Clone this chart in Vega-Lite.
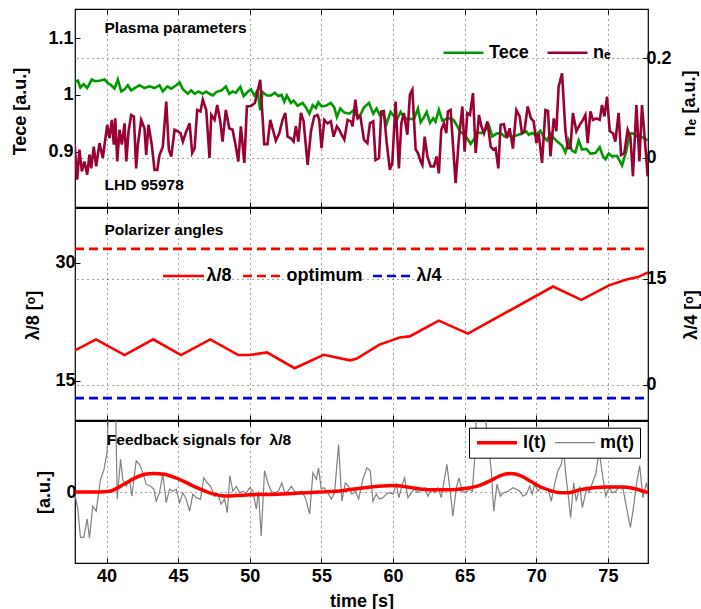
{
"$schema": "https://vega.github.io/schema/vega-lite/v6.json",
"background": "white",
"padding": {"left": 10, "top": 7, "right": 0, "bottom": 0},
"config": {
 "font": "Liberation Sans",
 "view": {"stroke": "black", "strokeWidth": 1.2},
 "axis": {"labelFont": "Liberation Sans", "labelFontWeight": "bold", "labelFontSize": 18, "labelColor": "black",
  "titleFont": "Liberation Sans", "titleFontWeight": "bold", "titleFontSize": 18, "titleColor": "black",
  "domain": false, "tickColor": "black", "tickSize": -5, "tickWidth": 1, "gridColor": "#333", "gridDash": [1, 4], "gridWidth": 1, "gridOpacity": 0.9},
 "legend": {"labelFont": "Liberation Sans", "labelFontWeight": "bold", "labelFontSize": 18, "labelColor": "black", "symbolType": "stroke", "padding": 0, "title": null},
 "title": {"font": "Liberation Sans", "fontWeight": "bold", "fontSize": 15.5, "color": "black", "anchor": "start", "frame": "group", "orient": "top",
  "subtitleFont": "Liberation Sans", "subtitleFontWeight": "bold", "subtitleFontSize": 15.5, "subtitleColor": "black"}
},
"datasets": {
 "tece": [{"t":37.77,"v":1.022},{"t":38.0,"v":1.025},{"t":38.18,"v":1.013},{"t":38.41,"v":1.019},{"t":38.65,"v":1.012},{"t":38.97,"v":1.027},{"t":39.21,"v":1.024},{"t":39.51,"v":1.025},{"t":39.86,"v":1.027},{"t":40.09,"v":1.021},{"t":40.33,"v":1.017},{"t":40.56,"v":1.011},{"t":40.79,"v":1.027},{"t":41.03,"v":1.006},{"t":41.26,"v":1.010},{"t":41.49,"v":1.017},{"t":41.72,"v":1.008},{"t":41.96,"v":1.012},{"t":42.30,"v":1.017},{"t":42.65,"v":1.012},{"t":43.00,"v":1.015},{"t":43.35,"v":1.012},{"t":43.70,"v":1.017},{"t":43.93,"v":1.006},{"t":44.24,"v":1.015},{"t":44.52,"v":1.011},{"t":44.87,"v":1.017},{"t":45.10,"v":1.022},{"t":45.33,"v":1.010},{"t":45.68,"v":1.002},{"t":45.91,"v":1.008},{"t":46.15,"v":1.002},{"t":46.42,"v":1.006},{"t":46.72,"v":1.002},{"t":46.96,"v":1.006},{"t":47.19,"v":1.002},{"t":47.42,"v":0.999},{"t":47.66,"v":1.005},{"t":48.03,"v":1.008},{"t":48.33,"v":1.015},{"t":48.57,"v":1.002},{"t":48.80,"v":1.006},{"t":49.03,"v":1.004},{"t":49.34,"v":1.014},{"t":49.57,"v":0.998},{"t":49.85,"v":1.005},{"t":50.08,"v":1.010},{"t":50.31,"v":0.999},{"t":50.54,"v":1.008},{"t":50.73,"v":0.973},{"t":50.89,"v":1.005},{"t":51.19,"v":0.999},{"t":51.47,"v":0.999},{"t":51.75,"v":1.004},{"t":51.99,"v":0.998},{"t":52.22,"v":1.000},{"t":52.41,"v":0.988},{"t":52.59,"v":0.999},{"t":52.87,"v":0.986},{"t":53.06,"v":0.990},{"t":53.34,"v":0.981},{"t":53.69,"v":0.986},{"t":53.92,"v":0.978},{"t":54.16,"v":0.967},{"t":54.39,"v":0.982},{"t":54.62,"v":0.977},{"t":54.78,"v":0.987},{"t":55.01,"v":0.980},{"t":55.31,"v":0.981},{"t":55.66,"v":0.986},{"t":55.90,"v":0.978},{"t":56.08,"v":0.961},{"t":56.32,"v":0.976},{"t":56.60,"v":0.969},{"t":56.95,"v":0.967},{"t":57.25,"v":0.973},{"t":57.53,"v":0.961},{"t":57.74,"v":0.966},{"t":57.97,"v":0.978},{"t":58.32,"v":0.986},{"t":58.62,"v":0.967},{"t":58.85,"v":0.976},{"t":59.09,"v":0.964},{"t":59.32,"v":0.967},{"t":59.55,"v":0.949},{"t":59.83,"v":0.970},{"t":60.06,"v":0.963},{"t":60.30,"v":0.958},{"t":60.53,"v":0.970},{"t":60.76,"v":0.961},{"t":61.00,"v":0.957},{"t":61.23,"v":0.958},{"t":61.46,"v":0.957},{"t":61.74,"v":0.976},{"t":61.93,"v":0.952},{"t":62.16,"v":0.961},{"t":62.35,"v":0.970},{"t":62.58,"v":0.951},{"t":62.81,"v":0.959},{"t":62.97,"v":0.953},{"t":63.20,"v":0.974},{"t":63.44,"v":0.955},{"t":63.74,"v":0.958},{"t":64.02,"v":0.959},{"t":64.25,"v":0.955},{"t":64.49,"v":0.945},{"t":64.72,"v":0.934},{"t":64.95,"v":0.932},{"t":65.19,"v":0.923},{"t":65.42,"v":0.914},{"t":65.65,"v":0.922},{"t":65.89,"v":0.934},{"t":66.17,"v":0.933},{"t":66.40,"v":0.937},{"t":66.70,"v":0.946},{"t":66.93,"v":0.927},{"t":67.23,"v":0.932},{"t":67.51,"v":0.933},{"t":67.79,"v":0.927},{"t":68.00,"v":0.929},{"t":68.30,"v":0.927},{"t":68.65,"v":0.929},{"t":69.00,"v":0.932},{"t":69.31,"v":0.936},{"t":69.47,"v":0.930},{"t":69.70,"v":0.933},{"t":69.94,"v":0.930},{"t":70.29,"v":0.937},{"t":70.52,"v":0.926},{"t":70.75,"v":0.920},{"t":70.99,"v":0.932},{"t":71.26,"v":0.923},{"t":71.50,"v":0.917},{"t":71.80,"v":0.911},{"t":72.03,"v":0.899},{"t":72.26,"v":0.920},{"t":72.49,"v":0.902},{"t":72.73,"v":0.899},{"t":72.96,"v":0.920},{"t":73.19,"v":0.904},{"t":73.50,"v":0.905},{"t":73.78,"v":0.897},{"t":74.13,"v":0.898},{"t":74.43,"v":0.908},{"t":74.66,"v":0.892},{"t":74.83,"v":0.887},{"t":75.06,"v":0.897},{"t":75.29,"v":0.892},{"t":75.64,"v":0.893},{"t":75.99,"v":0.876},{"t":76.29,"v":0.902},{"t":76.52,"v":0.932},{"t":76.80,"v":0.932},{"t":77.03,"v":0.927},{"t":77.38,"v":0.926},{"t":77.78,"v":0.920}],
 "ne": [{"t":37.77,"v":0.029},{"t":37.95,"v":-0.045},{"t":38.11,"v":0.016},{"t":38.28,"v":-0.028},{"t":38.46,"v":-0.008},{"t":38.65,"v":-0.035},{"t":38.81,"v":0.006},{"t":38.93,"v":-0.022},{"t":39.11,"v":0.022},{"t":39.28,"v":-0.018},{"t":39.51,"v":0.029},{"t":39.74,"v":-0.001},{"t":40.05,"v":0.066},{"t":40.21,"v":0.039},{"t":40.37,"v":0.076},{"t":40.51,"v":0.026},{"t":40.61,"v":0.079},{"t":40.75,"v":-0.008},{"t":40.91,"v":0.056},{"t":41.07,"v":0.026},{"t":41.26,"v":0.069},{"t":41.38,"v":-0.008},{"t":41.54,"v":0.053},{"t":41.72,"v":0.086},{"t":41.91,"v":0.083},{"t":42.07,"v":-0.022},{"t":42.19,"v":0.026},{"t":42.42,"v":0.076},{"t":42.65,"v":0.059},{"t":42.77,"v":0.005},{"t":42.93,"v":0.066},{"t":43.16,"v":0.026},{"t":43.35,"v":-0.025},{"t":43.54,"v":-0.025},{"t":43.70,"v":0.005},{"t":43.93,"v":0.022},{"t":44.17,"v":0.113},{"t":44.35,"v":0.016},{"t":44.52,"v":0.002},{"t":44.75,"v":0.056},{"t":44.98,"v":0.053},{"t":45.17,"v":0.049},{"t":45.33,"v":0.032},{"t":45.52,"v":0.049},{"t":45.80,"v":0.069},{"t":45.98,"v":0.009},{"t":46.15,"v":0.019},{"t":46.33,"v":0.096},{"t":46.56,"v":0.093},{"t":46.72,"v":0.117},{"t":46.96,"v":0.096},{"t":47.19,"v":-0.001},{"t":47.31,"v":0.086},{"t":47.54,"v":0.076},{"t":47.73,"v":0.106},{"t":47.94,"v":0.073},{"t":48.10,"v":0.032},{"t":48.33,"v":0.096},{"t":48.57,"v":0.059},{"t":48.80,"v":0.056},{"t":49.03,"v":0.022},{"t":49.20,"v":-0.008},{"t":49.38,"v":0.063},{"t":49.62,"v":-0.011},{"t":49.80,"v":0.103},{"t":50.08,"v":0.104},{"t":50.36,"v":0.110},{"t":50.54,"v":0.133},{"t":50.73,"v":0.157},{"t":50.89,"v":0.083},{"t":51.01,"v":0.027},{"t":51.24,"v":0.027},{"t":51.43,"v":0.076},{"t":51.59,"v":0.059},{"t":51.82,"v":0.034},{"t":52.06,"v":0.049},{"t":52.29,"v":0.076},{"t":52.48,"v":0.090},{"t":52.64,"v":0.042},{"t":52.87,"v":0.039},{"t":53.06,"v":0.032},{"t":53.22,"v":0.063},{"t":53.39,"v":0.032},{"t":53.57,"v":0.090},{"t":53.76,"v":0.073},{"t":53.92,"v":0.022},{"t":54.04,"v":-0.015},{"t":54.27,"v":0.053},{"t":54.50,"v":0.083},{"t":54.73,"v":0.086},{"t":54.85,"v":0.076},{"t":55.01,"v":0.019},{"t":55.20,"v":0.076},{"t":55.43,"v":0.069},{"t":55.66,"v":0.073},{"t":55.85,"v":0.042},{"t":56.08,"v":0.063},{"t":56.25,"v":0.056},{"t":56.41,"v":0.046},{"t":56.60,"v":0.036},{"t":56.83,"v":0.076},{"t":57.06,"v":0.073},{"t":57.18,"v":0.063},{"t":57.37,"v":0.117},{"t":57.53,"v":0.079},{"t":57.72,"v":0.083},{"t":57.97,"v":0.036},{"t":58.21,"v":0.029},{"t":58.39,"v":0.069},{"t":58.62,"v":0.073},{"t":58.78,"v":-0.005},{"t":59.02,"v":-0.001},{"t":59.18,"v":0.093},{"t":59.36,"v":0.094},{"t":59.55,"v":0.032},{"t":59.78,"v":-0.025},{"t":59.95,"v":-0.011},{"t":60.18,"v":0.113},{"t":60.41,"v":-0.022},{"t":60.58,"v":0.069},{"t":60.76,"v":0.090},{"t":61.00,"v":0.046},{"t":61.18,"v":0.127},{"t":61.35,"v":0.137},{"t":61.58,"v":0.016},{"t":61.74,"v":0.009},{"t":61.93,"v":-0.008},{"t":62.05,"v":-0.015},{"t":62.21,"v":0.042},{"t":62.40,"v":0.002},{"t":62.63,"v":-0.018},{"t":62.86,"v":-0.018},{"t":63.04,"v":0.002},{"t":63.20,"v":-0.032},{"t":63.37,"v":0.056},{"t":63.55,"v":0.069},{"t":63.72,"v":0.049},{"t":63.83,"v":0.093},{"t":64.02,"v":0.096},{"t":64.21,"v":0.016},{"t":64.37,"v":-0.052},{"t":64.60,"v":0.039},{"t":64.84,"v":0.103},{"t":65.00,"v":0.012},{"t":65.19,"v":0.090},{"t":65.37,"v":0.086},{"t":65.58,"v":0.130},{"t":65.77,"v":0.009},{"t":66.00,"v":0.086},{"t":66.17,"v":0.063},{"t":66.35,"v":0.049},{"t":66.59,"v":0.073},{"t":66.82,"v":0.022},{"t":67.00,"v":0.016},{"t":67.16,"v":0.019},{"t":67.35,"v":-0.022},{"t":67.51,"v":0.066},{"t":67.74,"v":0.067},{"t":67.95,"v":0.039},{"t":68.14,"v":0.059},{"t":68.37,"v":0.018},{"t":68.61,"v":0.096},{"t":68.84,"v":0.083},{"t":69.00,"v":0.049},{"t":69.17,"v":0.053},{"t":69.40,"v":0.103},{"t":69.63,"v":0.079},{"t":69.82,"v":0.073},{"t":70.01,"v":0.029},{"t":70.17,"v":0.049},{"t":70.40,"v":-0.011},{"t":70.64,"v":0.096},{"t":70.82,"v":0.094},{"t":70.99,"v":0.002},{"t":71.22,"v":0.079},{"t":71.40,"v":0.053},{"t":71.56,"v":0.143},{"t":71.80,"v":0.170},{"t":72.03,"v":0.056},{"t":72.19,"v":0.019},{"t":72.38,"v":0.019},{"t":72.56,"v":0.090},{"t":72.80,"v":0.053},{"t":73.03,"v":0.066},{"t":73.26,"v":0.076},{"t":73.43,"v":0.086},{"t":73.59,"v":0.029},{"t":73.78,"v":0.093},{"t":73.96,"v":0.076},{"t":74.20,"v":0.079},{"t":74.43,"v":0.076},{"t":74.59,"v":0.106},{"t":74.76,"v":0.083},{"t":74.94,"v":0.123},{"t":75.13,"v":0.053},{"t":75.36,"v":0.049},{"t":75.52,"v":0.032},{"t":75.75,"v":0.090},{"t":75.92,"v":0.005},{"t":76.15,"v":0.009},{"t":76.38,"v":0.056},{"t":76.57,"v":0.042},{"t":76.75,"v":-0.038},{"t":76.99,"v":0.106},{"t":77.20,"v":-0.008},{"t":77.38,"v":0.106},{"t":77.55,"v":0.046},{"t":77.78,"v":-0.038}],
 "l8": [{"t":37.8,"v":18.86},{"t":39.27,"v":20.27},{"t":41.26,"v":18.27},{"t":43.26,"v":20.27},{"t":45.2,"v":18.27},{"t":47.24,"v":20.27},{"t":49.2,"v":18.27},{"t":50.0,"v":18.27},{"t":51.2,"v":18.6},{"t":53.13,"v":16.6},{"t":55.16,"v":18.3},{"t":57.0,"v":17.6},{"t":57.44,"v":17.8},{"t":59.06,"v":19.6},{"t":60.46,"v":20.5},{"t":61.16,"v":20.65},{"t":63.2,"v":22.65},{"t":65.23,"v":21.0},{"t":71.17,"v":27.0},{"t":73.15,"v":25.3},{"t":75.08,"v":27.15},{"t":76.3,"v":27.9},{"t":77.1,"v":28.2},{"t":77.8,"v":28.8}],
 "opt": [{"t":37.8,"v":31.8},{"t":77.8,"v":31.8}],
 "l4": [{"t":37.8,"v":-1.9},{"t":77.8,"v":-1.9}],
 "lt": [{"s":"l(t)","t":37.8,"v":0.0},{"s":"l(t)","t":39.5,"v":0.0},{"s":"l(t)","t":40.2,"v":0.01},{"s":"l(t)","t":40.7,"v":0.05},{"s":"l(t)","t":41.3,"v":0.12},{"s":"l(t)","t":42.0,"v":0.2},{"s":"l(t)","t":42.7,"v":0.25},{"s":"l(t)","t":43.3,"v":0.26},{"s":"l(t)","t":44.0,"v":0.25},{"s":"l(t)","t":44.7,"v":0.21},{"s":"l(t)","t":45.4,"v":0.15},{"s":"l(t)","t":46.1,"v":0.08},{"s":"l(t)","t":46.8,"v":0.02},{"s":"l(t)","t":47.5,"v":-0.03},{"s":"l(t)","t":48.2,"v":-0.055},{"s":"l(t)","t":49.0,"v":-0.05},{"s":"l(t)","t":50.0,"v":-0.04},{"s":"l(t)","t":51.0,"v":-0.035},{"s":"l(t)","t":52.0,"v":-0.03},{"s":"l(t)","t":53.0,"v":-0.02},{"s":"l(t)","t":54.0,"v":-0.01},{"s":"l(t)","t":55.0,"v":0.0},{"s":"l(t)","t":56.0,"v":0.01},{"s":"l(t)","t":57.0,"v":0.035},{"s":"l(t)","t":58.0,"v":0.06},{"s":"l(t)","t":59.0,"v":0.08},{"s":"l(t)","t":60.0,"v":0.09},{"s":"l(t)","t":61.0,"v":0.07},{"s":"l(t)","t":62.0,"v":0.04},{"s":"l(t)","t":63.0,"v":0.03},{"s":"l(t)","t":64.0,"v":0.03},{"s":"l(t)","t":65.0,"v":0.05},{"s":"l(t)","t":66.0,"v":0.09},{"s":"l(t)","t":66.8,"v":0.16},{"s":"l(t)","t":67.5,"v":0.23},{"s":"l(t)","t":68.2,"v":0.26},{"s":"l(t)","t":68.9,"v":0.23},{"s":"l(t)","t":69.6,"v":0.15},{"s":"l(t)","t":70.3,"v":0.07},{"s":"l(t)","t":71.0,"v":0.02},{"s":"l(t)","t":71.7,"v":-0.01},{"s":"l(t)","t":72.3,"v":-0.01},{"s":"l(t)","t":73.0,"v":0.03},{"s":"l(t)","t":74.0,"v":0.06},{"s":"l(t)","t":75.0,"v":0.07},{"s":"l(t)","t":76.0,"v":0.07},{"s":"l(t)","t":76.8,"v":0.05},{"s":"l(t)","t":77.8,"v":-0.01}],
 "mt": [{"s":"m(t)","t":37.77,"v":-0.01},{"s":"m(t)","t":38.0,"v":-0.24},{"s":"m(t)","t":38.18,"v":-0.64},{"s":"m(t)","t":38.41,"v":-0.64},{"s":"m(t)","t":38.65,"v":-0.38},{"s":"m(t)","t":38.81,"v":-0.65},{"s":"m(t)","t":39.04,"v":-0.2},{"s":"m(t)","t":39.28,"v":-0.27},{"s":"m(t)","t":39.58,"v":0.18},{"s":"m(t)","t":39.81,"v":0.30},{"s":"m(t)","t":40.05,"v":0.58},{"s":"m(t)","t":40.14,"v":1.3},{"s":"m(t)","t":40.62,"v":1.3},{"s":"m(t)","t":40.75,"v":-0.1},{"s":"m(t)","t":40.98,"v":0.46},{"s":"m(t)","t":41.14,"v":0.17},{"s":"m(t)","t":41.38,"v":0.08},{"s":"m(t)","t":41.61,"v":0.17},{"s":"m(t)","t":41.77,"v":-0.06},{"s":"m(t)","t":42.07,"v":0.44},{"s":"m(t)","t":42.3,"v":0.39},{"s":"m(t)","t":42.54,"v":0.27},{"s":"m(t)","t":42.77,"v":0.11},{"s":"m(t)","t":43.07,"v":0.08},{"s":"m(t)","t":43.3,"v":0.04},{"s":"m(t)","t":43.47,"v":-0.13},{"s":"m(t)","t":43.7,"v":-0.01},{"s":"m(t)","t":43.93,"v":0.25},{"s":"m(t)","t":44.17,"v":-0.15},{"s":"m(t)","t":44.4,"v":0.04},{"s":"m(t)","t":44.63,"v":0.01},{"s":"m(t)","t":44.87,"v":0.04},{"s":"m(t)","t":45.1,"v":-0.15},{"s":"m(t)","t":45.33,"v":-0.01},{"s":"m(t)","t":45.56,"v":-0.1},{"s":"m(t)","t":45.8,"v":-0.27},{"s":"m(t)","t":46.03,"v":-0.03},{"s":"m(t)","t":46.26,"v":-0.08},{"s":"m(t)","t":46.56,"v":-0.1},{"s":"m(t)","t":46.79,"v":0.2},{"s":"m(t)","t":47.03,"v":0.13},{"s":"m(t)","t":47.26,"v":0.08},{"s":"m(t)","t":47.54,"v":-0.06},{"s":"m(t)","t":47.77,"v":-0.03},{"s":"m(t)","t":48.0,"v":-0.17},{"s":"m(t)","t":48.24,"v":-0.1},{"s":"m(t)","t":48.43,"v":-0.29},{"s":"m(t)","t":48.61,"v":0.23},{"s":"m(t)","t":48.82,"v":0.01},{"s":"m(t)","t":49.06,"v":0.08},{"s":"m(t)","t":49.29,"v":-0.01},{"s":"m(t)","t":49.52,"v":0.01},{"s":"m(t)","t":49.76,"v":-0.01},{"s":"m(t)","t":49.99,"v":0.06},{"s":"m(t)","t":50.22,"v":0.01},{"s":"m(t)","t":50.46,"v":-0.24},{"s":"m(t)","t":50.61,"v":0.01},{"s":"m(t)","t":50.8,"v":-0.62},{"s":"m(t)","t":51.03,"v":0.30},{"s":"m(t)","t":51.26,"v":0.13},{"s":"m(t)","t":51.5,"v":0.01},{"s":"m(t)","t":51.73,"v":-0.01},{"s":"m(t)","t":52.0,"v":0.01},{"s":"m(t)","t":52.24,"v":0.13},{"s":"m(t)","t":52.43,"v":-0.01},{"s":"m(t)","t":52.66,"v":0.01},{"s":"m(t)","t":52.9,"v":0.08},{"s":"m(t)","t":53.13,"v":0.01},{"s":"m(t)","t":53.36,"v":-0.01},{"s":"m(t)","t":53.6,"v":0.01},{"s":"m(t)","t":53.88,"v":-0.08},{"s":"m(t)","t":54.18,"v":-0.31},{"s":"m(t)","t":54.41,"v":0.27},{"s":"m(t)","t":54.65,"v":0.18},{"s":"m(t)","t":54.8,"v":0.34},{"s":"m(t)","t":54.99,"v":0.04},{"s":"m(t)","t":55.2,"v":0.06},{"s":"m(t)","t":55.45,"v":-0.01},{"s":"m(t)","t":55.69,"v":-0.1},{"s":"m(t)","t":55.92,"v":-0.01},{"s":"m(t)","t":56.2,"v":0.67},{"s":"m(t)","t":56.43,"v":-0.13},{"s":"m(t)","t":56.67,"v":0.13},{"s":"m(t)","t":56.9,"v":0.08},{"s":"m(t)","t":57.13,"v":-0.03},{"s":"m(t)","t":57.37,"v":0.01},{"s":"m(t)","t":57.6,"v":-0.1},{"s":"m(t)","t":57.9,"v":0.18},{"s":"m(t)","t":58.18,"v":0.34},{"s":"m(t)","t":58.41,"v":0.30},{"s":"m(t)","t":58.6,"v":-0.13},{"s":"m(t)","t":58.83,"v":-0.03},{"s":"m(t)","t":59.06,"v":-0.1},{"s":"m(t)","t":59.3,"v":-0.08},{"s":"m(t)","t":59.53,"v":-0.03},{"s":"m(t)","t":59.76,"v":-0.01},{"s":"m(t)","t":60.0,"v":-0.03},{"s":"m(t)","t":60.23,"v":0.11},{"s":"m(t)","t":60.41,"v":-0.08},{"s":"m(t)","t":60.65,"v":0.11},{"s":"m(t)","t":60.81,"v":0.2},{"s":"m(t)","t":61.04,"v":-0.08},{"s":"m(t)","t":61.28,"v":-0.01},{"s":"m(t)","t":61.51,"v":0.04},{"s":"m(t)","t":61.74,"v":-0.01},{"s":"m(t)","t":61.97,"v":0.04},{"s":"m(t)","t":62.21,"v":0.06},{"s":"m(t)","t":62.44,"v":-0.06},{"s":"m(t)","t":62.67,"v":0.04},{"s":"m(t)","t":62.9,"v":-0.01},{"s":"m(t)","t":63.14,"v":0.06},{"s":"m(t)","t":63.37,"v":-0.08},{"s":"m(t)","t":63.53,"v":0.11},{"s":"m(t)","t":63.76,"v":0.39},{"s":"m(t)","t":64.0,"v":-0.01},{"s":"m(t)","t":64.18,"v":-0.34},{"s":"m(t)","t":64.42,"v":0.06},{"s":"m(t)","t":64.6,"v":0.2},{"s":"m(t)","t":64.84,"v":0.01},{"s":"m(t)","t":65.07,"v":-0.01},{"s":"m(t)","t":65.3,"v":0.04},{"s":"m(t)","t":65.54,"v":0.01},{"s":"m(t)","t":65.7,"v":0.48},{"s":"m(t)","t":65.86,"v":1.3},{"s":"m(t)","t":66.3,"v":1.3},{"s":"m(t)","t":66.63,"v":0.72},{"s":"m(t)","t":66.86,"v":0.3},{"s":"m(t)","t":67.03,"v":-0.27},{"s":"m(t)","t":67.26,"v":0.11},{"s":"m(t)","t":67.49,"v":-0.06},{"s":"m(t)","t":67.72,"v":-0.01},{"s":"m(t)","t":68.02,"v":0.01},{"s":"m(t)","t":68.37,"v":0.06},{"s":"m(t)","t":68.61,"v":0.04},{"s":"m(t)","t":68.84,"v":0.01},{"s":"m(t)","t":69.07,"v":-0.06},{"s":"m(t)","t":69.31,"v":-0.03},{"s":"m(t)","t":69.54,"v":0.08},{"s":"m(t)","t":69.72,"v":-0.03},{"s":"m(t)","t":69.89,"v":0.11},{"s":"m(t)","t":70.12,"v":0.01},{"s":"m(t)","t":70.36,"v":0.08},{"s":"m(t)","t":70.59,"v":0.06},{"s":"m(t)","t":70.82,"v":0.04},{"s":"m(t)","t":71.05,"v":-0.13},{"s":"m(t)","t":71.28,"v":0.11},{"s":"m(t)","t":71.51,"v":0.3},{"s":"m(t)","t":71.75,"v":0.39},{"s":"m(t)","t":71.91,"v":0.6},{"s":"m(t)","t":72.05,"v":0.27},{"s":"m(t)","t":72.21,"v":-0.01},{"s":"m(t)","t":72.4,"v":-0.36},{"s":"m(t)","t":72.61,"v":0.13},{"s":"m(t)","t":72.79,"v":-0.13},{"s":"m(t)","t":73.03,"v":0.08},{"s":"m(t)","t":73.22,"v":-0.22},{"s":"m(t)","t":73.52,"v":0.06},{"s":"m(t)","t":73.68,"v":-0.01},{"s":"m(t)","t":73.92,"v":0.13},{"s":"m(t)","t":74.15,"v":0.25},{"s":"m(t)","t":74.38,"v":0.58},{"s":"m(t)","t":74.62,"v":0.25},{"s":"m(t)","t":74.85,"v":-0.06},{"s":"m(t)","t":75.08,"v":0.06},{"s":"m(t)","t":75.32,"v":-0.01},{"s":"m(t)","t":75.55,"v":0.01},{"s":"m(t)","t":75.78,"v":0.08},{"s":"m(t)","t":76.06,"v":0.04},{"s":"m(t)","t":76.3,"v":-0.22},{"s":"m(t)","t":76.57,"v":-0.5},{"s":"m(t)","t":76.8,"v":-0.2},{"s":"m(t)","t":76.99,"v":0.11},{"s":"m(t)","t":77.22,"v":0.37},{"s":"m(t)","t":77.45,"v":-0.08},{"s":"m(t)","t":77.69,"v":0.13},{"s":"m(t)","t":77.86,"v":-0.03}]
},
"vconcat": [
 {
  "width": 573, "height": 198,
  "title": {"text": "Plasma parameters", "subtitle": "LHD 95978", "dx": 29.5, "offset": -184.5, "subtitlePadding": 141},
  "layer": [
   {"data": {"name": "tece"}, "mark": {"type": "line", "strokeWidth": 2.6, "clip": true},
    "encoding": {
     "x": {"field": "t", "type": "quantitative", "scale": {"domain": [37.8, 77.8], "nice": false, "zero": false}, "axis": {"orient": "bottom", "values": [40,45,50,55,60,65,70,75], "labels": false, "title": null, "grid": true}},
     "y": {"field": "v", "type": "quantitative", "scale": {"domain": [0.803, 1.151], "nice": false, "zero": false}, "axis": {"orient": "left", "values": [0.9, 1, 1.1], "format": "~g", "grid": false, "labelPadding": 7, "title": "Tece [a.u.]", "titleAngle": 270, "titleX": -55, "titleY": 102, "titleAlign": "center", "titleBaseline": "middle"}},
     "color": {"datum": "Tece", "scale": {"domain": ["Tece", "nₑ"], "range": ["#009a00", "#990033"]},
      "legend": {"orient": "none", "legendX": 367, "legendY": 22, "direction": "horizontal", "symbolSize": 1600, "symbolStrokeWidth": 2.6, "labelOffset": 4, "columnPadding": 13}}
    }},
   {"data": {"name": "ne"}, "mark": {"type": "line", "strokeWidth": 2.6, "clip": true},
    "encoding": {
     "x": {"field": "t", "type": "quantitative", "scale": {"domain": [37.8, 77.8], "nice": false, "zero": false}, "axis": {"orient": "top", "values": [40,45,50,55,60,65,70,75], "labels": false, "title": null, "grid": false}},
     "y": {"field": "v", "type": "quantitative", "scale": {"domain": [-0.1, 0.3], "nice": false, "zero": false}, "axis": {"orient": "right", "values": [0, 0.2], "format": "~g", "grid": true, "labelPadding": 3, "title": "nₑ [a.u.]", "titleAngle": 270, "titleX": 41, "titleY": 94, "titleAlign": "center", "titleBaseline": "middle"}},
     "color": {"datum": "nₑ"}
    }}
  ],
  "resolve": {"scale": {"x": "independent", "y": "independent"}}
 },
 {
  "width": 573, "height": 212,
  "title": {"text": "Polarizer angles", "dx": 29.5, "offset": -31},
  "layer": [
   {"data": {"name": "l8"}, "mark": {"type": "line", "strokeWidth": 2.6, "clip": true},
    "encoding": {
     "x": {"field": "t", "type": "quantitative", "scale": {"domain": [37.8, 77.8], "nice": false, "zero": false}, "axis": {"orient": "bottom", "values": [40,45,50,55,60,65,70,75], "labels": false, "title": null, "grid": true}},
     "y": {"field": "v", "type": "quantitative", "scale": {"domain": [10, 37], "nice": false, "zero": false}, "axis": {"orient": "left", "values": [15, 30], "grid": false, "labelPadding": 5, "title": "λ/8 [ᵒ]", "titleAngle": 270, "titleX": -41.5, "titleY": 107, "titleAlign": "center", "titleBaseline": "middle"}},
     "color": {"datum": "λ/8", "scale": {"domain": ["λ/8", "optimum", "λ/4"], "range": ["#ff0000", "#ff0000", "#0000ff"]},
      "legend": {"orient": "none", "legendX": 86.5, "legendY": 46, "direction": "horizontal", "symbolSize": 1681, "symbolStrokeWidth": 2.6, "labelOffset": 1, "columnPadding": 5,
       "labelExpr": "datum.label === 'optimum' ? 'optimum\u2002\u2002\u2002' : datum.label",
       "encode": {"symbols": {"update": {"strokeDash": {"signal": "datum.value === 'λ/8' ? [1, 0] : [9, 5]"}}}}}}
    }},
   {"data": {"name": "opt"}, "mark": {"type": "line", "strokeWidth": 2.6, "strokeDash": [9, 5], "clip": true},
    "encoding": {
     "x": {"field": "t", "type": "quantitative", "scale": {"domain": [37.8, 77.8], "nice": false, "zero": false}, "axis": null},
     "y": {"field": "v", "type": "quantitative", "scale": {"domain": [10, 37], "nice": false, "zero": false}, "axis": null},
     "color": {"datum": "optimum"}
    }},
   {"data": {"name": "l4"}, "mark": {"type": "line", "strokeWidth": 2.6, "strokeDash": [9, 5], "clip": true},
    "encoding": {
     "x": {"field": "t", "type": "quantitative", "scale": {"domain": [37.8, 77.8], "nice": false, "zero": false}, "axis": {"orient": "top", "values": [40,45,50,55,60,65,70,75], "labels": false, "title": null, "grid": false}},
     "y": {"field": "v", "type": "quantitative", "scale": {"domain": [-5, 25], "nice": false, "zero": false}, "axis": {"orient": "right", "values": [0, 15], "grid": true, "labelPadding": 3, "title": "λ/4 [ᵒ]", "titleAngle": 270, "titleX": 43, "titleY": 106.5, "titleAlign": "center", "titleBaseline": "middle"}},
     "color": {"datum": "λ/4"}
    }}
  ],
  "resolve": {"scale": {"x": "independent", "y": "independent"}}
 },
 {
  "width": 573, "height": 142,
  "title": {"text": "Feedback signals for \u00a0λ/8", "dx": 31.8, "offset": -27.5},
  "layer": [
   {"data": {"name": "mt"}, "mark": {"type": "line", "clip": true},
    "encoding": {
     "x": {"field": "t", "type": "quantitative", "scale": {"domain": [37.8, 77.8], "nice": false, "zero": false}, "axis": {"orient": "bottom", "values": [40,45,50,55,60,65,70,75], "labelPadding": 9, "title": "time [s]", "titleX": 286.5, "titleY": 38, "titleBaseline": "middle", "titleAlign": "center", "grid": true}},
     "y": {"field": "v", "type": "quantitative", "scale": {"domain": [-1, 1], "nice": false, "zero": false}, "axis": {"orient": "left", "values": [0], "grid": true, "labelPadding": 4, "title": "[a.u.]", "titleAngle": 270, "titleX": -30.5, "titleY": 71, "titleAlign": "center", "titleBaseline": "middle"}},
     "color": {"field": "s", "type": "nominal", "scale": {"domain": ["l(t)", "m(t)"], "range": ["#ff0000", "#808080"]},
      "legend": {"orient": "none", "legendX": 394, "legendY": 6.7, "zindex": 2, "direction": "horizontal", "symbolSize": 1600, "clipHeight": 18, "labelOffset": 4, "columnPadding": 8, "padding": 6, "strokeColor": "black", "fillColor": "white"}},
     "strokeWidth": {"field": "s", "type": "nominal", "scale": {"domain": ["l(t)", "m(t)"], "range": [3.5, 1.2]},
      "legend": {"orient": "none", "legendX": 394, "legendY": 6.7, "zindex": 2, "direction": "horizontal", "symbolSize": 1600, "clipHeight": 18, "labelOffset": 4, "columnPadding": 8, "padding": 6, "strokeColor": "black", "fillColor": "white"}}
    }},
   {"data": {"name": "lt"}, "mark": {"type": "line", "clip": true, "interpolate": "monotone"},
    "encoding": {
     "x": {"field": "t", "type": "quantitative", "scale": {"domain": [37.8, 77.8], "nice": false, "zero": false}, "axis": {"orient": "top", "values": [40,45,50,55,60,65,70,75], "labels": false, "title": null, "grid": false}},
     "y": {"field": "v", "type": "quantitative", "scale": {"domain": [-1, 1], "nice": false, "zero": false}, "axis": null},
     "color": {"field": "s", "type": "nominal"},
     "strokeWidth": {"field": "s", "type": "nominal"}
    }}
  ],
  "resolve": {"scale": {"x": "independent", "y": "independent"}}
 }
],
"spacing": 1,
"bounds": "flush",
"resolve": {"scale": {"color": "independent", "strokeWidth": "independent"}}
}
